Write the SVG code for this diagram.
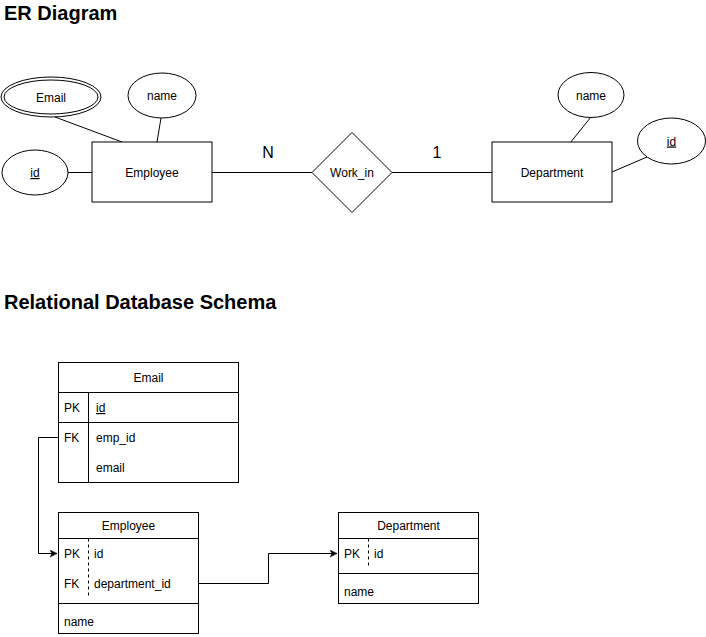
<svg xmlns="http://www.w3.org/2000/svg" width="706" height="637" viewBox="0 0 706 637">
<style>
  .s{fill:#fff;stroke:#000;stroke-width:1}
  .n{fill:none;stroke:#000;stroke-width:1}
  .d{fill:none;stroke:#000;stroke-width:1;stroke-dasharray:3 3}
  text{font-family:"Liberation Sans",Arial,sans-serif;font-size:12px;fill:#000}
  .c{text-anchor:middle}
  .t{font-size:20px;font-weight:bold}
  .big{font-size:16px}
  .u{text-decoration:underline}
</style>
<defs>
  <marker id="arr" markerWidth="8" markerHeight="8" refX="7" refY="4" orient="auto" markerUnits="userSpaceOnUse">
    <path d="M0,0.5 L7,4 L0,7.5 L2,4 Z" fill="#000" stroke="#000" stroke-width="0.5"/>
  </marker>
</defs>
<rect width="706" height="637" fill="#fff"/>

<text id="title-er" class="t" x="4" y="20">ER Diagram</text>
<text id="title-schema" class="t" x="4" y="309">Relational Database Schema</text>

<g id="connectors">
  <line class="n" x1="55" y1="117" x2="122" y2="142"/>
  <line class="n" x1="161" y1="118" x2="157" y2="142"/>
  <line class="n" x1="68" y1="172.5" x2="92" y2="172.5"/>
  <line class="n" x1="212" y1="172.5" x2="312" y2="172.5"/>
  <line class="n" x1="392" y1="172.5" x2="492" y2="172.5"/>
  <line class="n" x1="591" y1="117" x2="570" y2="143"/>
  <line class="n" x1="647" y1="157" x2="612" y2="172"/>
  <text class="c big" x="268" y="158">N</text>
  <text class="c big" x="437" y="158">1</text>
  <path class="n" d="M58,437.5 H38.5 V553.5 H57" marker-end="url(#arr)"/>
  <path class="n" d="M198,583.5 H268.5 V553.5 H337" marker-end="url(#arr)"/>
</g>

<g id="er-employee">
  <rect class="s" x="92" y="142" width="120" height="60"/>
  <text class="c" x="152" y="177">Employee</text>
</g>
<g id="er-email">
  <ellipse class="s" cx="51" cy="97" rx="50" ry="20"/>
  <ellipse class="n" cx="51" cy="97" rx="47" ry="17"/>
  <text class="c" x="51" y="101.5">Email</text>
</g>
<g id="er-emp-name">
  <ellipse class="s" cx="162" cy="95.5" rx="34" ry="22.5"/>
  <text class="c" x="162" y="100">name</text>
</g>
<g id="er-emp-id">
  <ellipse class="s" cx="35" cy="172.5" rx="33" ry="22.5"/>
  <text class="c u" x="35" y="177">id</text>
</g>
<g id="er-work-in">
  <path class="s" d="M312,172.5 L352,132.5 L392,172.5 L352,212.5 Z"/>
  <text class="c" x="352" y="177">Work_in</text>
</g>
<g id="er-department">
  <rect class="s" x="492" y="142" width="120" height="60"/>
  <text class="c" x="552" y="177">Department</text>
</g>
<g id="er-dept-name">
  <ellipse class="s" cx="591" cy="95" rx="33" ry="22.5"/>
  <text class="c" x="591" y="99.5">name</text>
</g>
<g id="er-dept-id">
  <ellipse class="s" cx="671.5" cy="141" rx="34" ry="23"/>
  <text class="c u" x="671.5" y="145.5">id</text>
</g>

<g id="tbl-email">
  <rect class="s" x="58.5" y="362.5" width="180" height="120"/>
  <line class="n" x1="58.5" y1="392.5" x2="238.5" y2="392.5"/>
  <line class="n" x1="58.5" y1="422.5" x2="238.5" y2="422.5"/>
  <line class="n" x1="88.5" y1="392.5" x2="88.5" y2="482.5"/>
  <text class="c" x="148.5" y="382">Email</text>
  <text x="64" y="412">PK</text>
  <text class="u" x="96" y="412">id</text>
  <text x="64" y="442">FK</text>
  <text x="96" y="442">emp_id</text>
  <text x="96" y="472">email</text>
</g>

<g id="tbl-employee">
  <rect class="s" x="58.5" y="512.5" width="140" height="121"/>
  <line class="n" x1="58.5" y1="538.5" x2="198.5" y2="538.5"/>
  <line class="n" x1="58.5" y1="603.5" x2="198.5" y2="603.5"/>
  <line class="d" x1="88.5" y1="538.5" x2="88.5" y2="597"/>
  <text class="c" x="128.5" y="530">Employee</text>
  <text x="64" y="558">PK</text>
  <text x="94" y="558">id</text>
  <text x="64" y="588">FK</text>
  <text x="94" y="588">department_id</text>
  <text x="64" y="626">name</text>
</g>

<g id="tbl-department">
  <rect class="s" x="338.5" y="512.5" width="140" height="91"/>
  <line class="n" x1="338.5" y1="538.5" x2="478.5" y2="538.5"/>
  <line class="n" x1="338.5" y1="573.5" x2="478.5" y2="573.5"/>
  <line class="d" x1="368.5" y1="538.5" x2="368.5" y2="567"/>
  <text class="c" x="408.5" y="530">Department</text>
  <text x="344" y="558">PK</text>
  <text x="374" y="558">id</text>
  <text x="344" y="596">name</text>
</g>
</svg>
